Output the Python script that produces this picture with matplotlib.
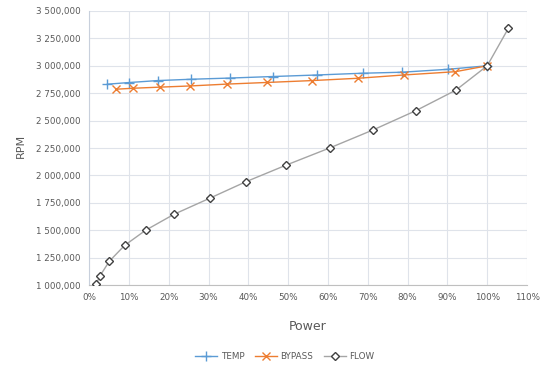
import numpy as np
import matplotlib.pyplot as plt
from matplotlib.ticker import FuncFormatter, PercentFormatter

# power fraction (%) and speed (rpm) for each control mode
temp_power = [4.6, 10.0, 17.2, 25.6, 35.4, 46.2, 57.3, 68.7, 78.5, 90.2, 100.0]
temp_rpm = [2832000, 2847000, 2865000, 2877000, 2888000, 2902000, 2916000,
            2932000, 2941000, 2968000, 3000000]

bypass_power = [6.7, 11.0, 17.7, 25.4, 34.7, 44.8, 56.0, 67.5, 79.0, 92.0, 100.0]
bypass_rpm = [2786000, 2795000, 2805000, 2816000, 2833000, 2848000, 2865000,
              2886000, 2916000, 2946000, 3000000]

flow_power = [1.8, 2.7, 5.1, 8.9, 14.2, 21.3, 30.3, 39.3, 49.5, 60.4, 71.4,
              82.1, 92.1, 100.0, 105.3]
flow_rpm = [1010000, 1082000, 1218000, 1361000, 1500000, 1645000, 1792000,
            1941000, 2094000, 2250000, 2416000, 2591000, 2777000, 3000000,
            3341000]

txt = '#595959'
grid = '#DFE3EA'


def rpm_fmt(v, pos):
    # million part separated by a space, thousands by a comma
    v = int(round(v))
    return '%d %03d,%03d' % (v // 1000000, (v // 1000) % 1000, v % 1000)


fig = plt.figure(figsize=(5.4, 3.65), dpi=100)
ax = fig.add_axes([0.165, 0.219, 0.811, 0.751])

ax.plot(temp_power, temp_rpm, color='#5B9BD5', lw=1.0, marker='+',
        ms=7, mew=1.0, label='TEMP', zorder=3)
ax.plot(bypass_power, bypass_rpm, color='#ED7D31', lw=1.0, marker='x',
        ms=5.5, mew=1.0, label='BYPASS', zorder=3)
ax.plot(flow_power, flow_rpm, color='#A5A5A5', lw=1.0, marker='D',
        ms=4.2, mew=1.0, mec='#404040', mfc='white', label='FLOW', zorder=3)

ax.set_xlim(0, 110)
ax.set_ylim(1000000, 3500000)
ax.set_xticks(np.arange(0, 111, 10))
ax.set_yticks(np.arange(1000000, 3500001, 250000))
ax.xaxis.set_major_formatter(PercentFormatter(decimals=0))
ax.yaxis.set_major_formatter(FuncFormatter(rpm_fmt))
ax.tick_params(colors=txt, labelsize=6.3, length=0, pad=6)

ax.grid(True, color=grid, lw=0.8)
ax.set_axisbelow(True)
for s in ['top', 'right']:
    ax.spines[s].set_visible(False)
ax.spines['left'].set_color('#C8D0DC')
ax.spines['bottom'].set_color('#BFBFBF')

ax.set_xlabel('Power', color=txt, fontsize=9, labelpad=13)
fig.text(0.038, 0.60, 'RPM', color=txt, fontsize=8, rotation=90,
         ha='center', va='center')

leg = ax.legend(loc='upper center', bbox_to_anchor=(0.447, -0.215), ncol=3,
                frameon=False, fontsize=6.3, handlelength=2.5,
                columnspacing=1.2, handletextpad=0.4)
for t in leg.get_texts():
    t.set_color(txt)

fig.savefig('out.png', dpi=100)
